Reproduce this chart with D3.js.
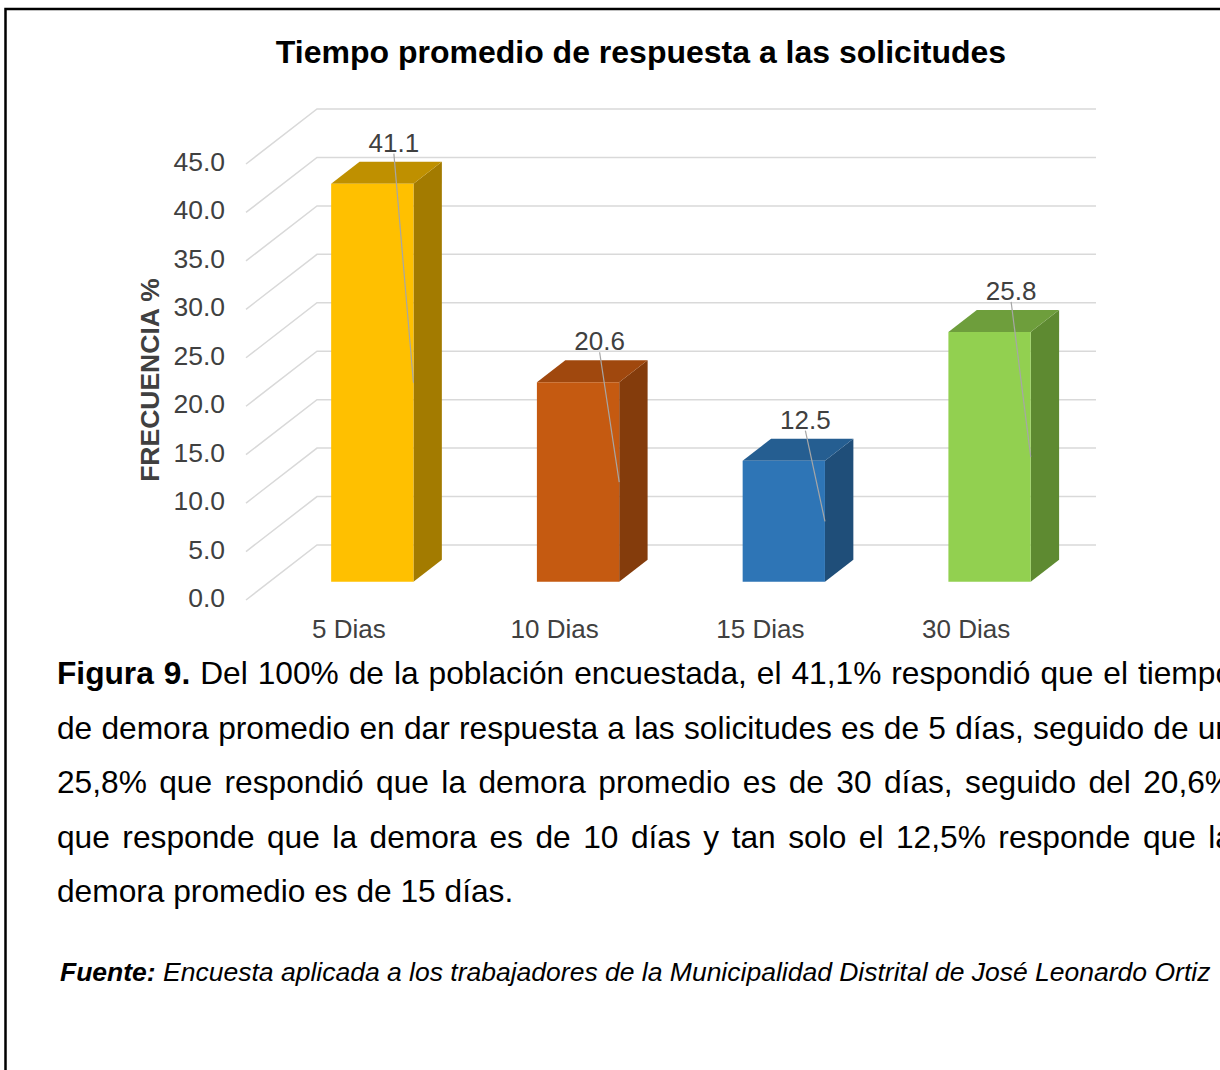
<!DOCTYPE html>
<html lang="es">
<head>
  <meta charset="UTF-8">
  <title>Tiempo promedio de respuesta</title>
  <script src="https://d3js.org/d3.v7.min.js"></script>
  <style>
    body { margin: 0; background: #fff; font-family: "Liberation Sans", Arial, sans-serif; }
    svg { display: block; }
  </style>
</head>
<body>
  <div id="chart"></div>
  <script>
    // datos
    const categories = ['5 Dias', '10 Dias', '15 Dias', '30 Dias'];
    const values = [41.1, 20.6, 12.5, 25.8];
    const yTicks = [0, 5, 10, 15, 20, 25, 30, 35, 40, 45];
    const frontColors = ['#FFC000', '#C55A11', '#2E75B6', '#92D050'];
    const topColors = ['#BF9000', '#A0480E', '#255E91', '#6E9E3C'];
    const sideColors = ['#A37B00', '#843C0C', '#1F4E79', '#5E8A31'];
    const title = 'Tiempo promedio de respuesta a las solicitudes';
    const yTitle = 'FRECUENCIA %';
    const captionLines = [
      ['Figura 9.', ' Del 100% de la población encuestada, el 41,1% respondió que el tiempo'],
      ['', 'de demora promedio en dar respuesta a las solicitudes es de 5 días, seguido de un'],
      ['', '25,8% que respondió que la demora promedio es de 30 días, seguido del 20,6%'],
      ['', 'que responde que la demora es de 10 días y tan solo el 12,5% responde que la'],
      ['', 'demora promedio es de 15 días.']
    ];
    const sourceLabel = 'Fuente:';
    const sourceText = ' Encuesta aplicada a los trabajadores de la Municipalidad Distrital de José Leonardo Ortiz';

    const W = 1220, H = 1070;
    const svg = d3.select('#chart').append('svg').attr('width', W).attr('height', H);

    // marco
    svg.append('rect').attr('x', 5.5).attr('y', 9).attr('width', 1300).attr('height', 1200)
      .attr('fill', 'none').attr('stroke', '#000').attr('stroke-width', 2.5);

    svg.append('text').attr('x', 641).attr('y', 63).attr('text-anchor', 'middle')
      .attr('font-size', 32).attr('font-weight', 'bold').attr('fill', '#000').text(title);

    // proyección 3D simple: profundidad z en [0,1]
    const DX = 71, DY = 55;
    const zFront = 0.33, zBack = 0.73;
    const y = d3.scaleLinear().domain([0, 45]).range([600, 164]);
    const x = d3.scaleBand().domain(categories).range([246, 1069]).paddingInner(0).paddingOuter(0);
    const barW = x.bandwidth() * 0.4;
    const wallRight = 1096;
    const P = (px, v, z) => [px + z * DX, y(v) - z * DY];

    // rejilla
    const grid = svg.append('g');
    yTicks.forEach(t => {
      const a = P(x.range()[0], t, 0), b = P(x.range()[0], t, 1);
      grid.append('polyline')
        .attr('points', [a, b, [wallRight, b[1]]].map(p => p.join(',')).join(' '))
        .attr('fill', 'none').attr('stroke', '#d9d9d9').attr('stroke-width', 1.5);
    });

    // etiquetas eje y
    svg.append('g').selectAll('text').data(yTicks).join('text')
      .attr('x', 225).attr('y', d => y(d) + 7).attr('text-anchor', 'end')
      .attr('font-size', 26.5).attr('fill', '#404040').text(d => d.toFixed(1));

    svg.append('text').attr('transform', 'translate(159,380) rotate(-90)')
      .attr('text-anchor', 'middle').attr('font-size', 26.5).attr('font-weight', 'bold')
      .attr('fill', '#404040').text(yTitle);

    // barras
    const bars = svg.append('g');
    categories.forEach((c, i) => {
      const v = values[i];
      const x0 = x(c) + (x.bandwidth() - barW) / 2, x1 = x0 + barW;
      const fl = P(x0, 0, zFront), fr = P(x1, 0, zFront);
      const tl = P(x0, v, zFront), tr = P(x1, v, zFront);
      const btl = P(x0, v, zBack), btr = P(x1, v, zBack), bbr = P(x1, 0, zBack);
      const poly = pts => pts.map(p => p.join(',')).join(' ');
      bars.append('polygon').attr('points', poly([fr, tr, btr, bbr])).attr('fill', sideColors[i]);
      bars.append('polygon').attr('points', poly([tl, tr, btr, btl])).attr('fill', topColors[i]);
      bars.append('polygon').attr('points', poly([fl, fr, tr, tl])).attr('fill', frontColors[i]);

      // etiqueta de valor con línea guía
      const cx = x(c) + x.bandwidth() / 2;
      const lx = cx + 45, ly = P(x0, v, zBack)[1] - 10;
      const mid = P(x1, v / 2, zFront);
      bars.append('line').attr('x1', lx).attr('y1', ly + 2).attr('x2', mid[0]).attr('y2', mid[1])
        .attr('stroke', '#a6a6a6').attr('stroke-width', 1.2);
      bars.append('text').attr('x', lx).attr('y', ly).attr('text-anchor', 'middle')
        .attr('font-size', 26).attr('fill', '#404040').text(v.toFixed(1));
    });

    // categorías
    svg.append('g').selectAll('text').data(categories).join('text')
      .attr('x', d => x(d) + x.bandwidth() / 2).attr('y', 638).attr('text-anchor', 'middle')
      .attr('font-size', 26).attr('fill', '#404040').text(d => d);

    // leyenda de la figura (justificada)
    const left = 57, right = 1233, lineH = 54.5;
    captionLines.forEach((ln, i) => {
      const t = svg.append('text').attr('x', left).attr('y', 684 + i * lineH)
        .attr('font-size', 31.7).attr('fill', '#000').attr('xml:space', 'preserve');
      if (ln[0]) t.append('tspan').attr('font-weight', 'bold').text(ln[0]);
      t.append('tspan').text(ln[1]);
      if (i < captionLines.length - 1) {
        const natural = t.node().getComputedTextLength();
        const spaces = (ln[0] + ln[1]).split(' ').length - 1;
        t.attr('word-spacing', (right - left - natural) / spaces);
      }
    });

    const src = svg.append('text').attr('x', 60).attr('y', 981)
      .attr('font-size', 26.5).attr('font-style', 'italic').attr('fill', '#000').attr('xml:space', 'preserve');
    src.append('tspan').attr('font-weight', 'bold').text(sourceLabel);
    src.append('tspan').text(sourceText);
  </script>
</body>
</html>
